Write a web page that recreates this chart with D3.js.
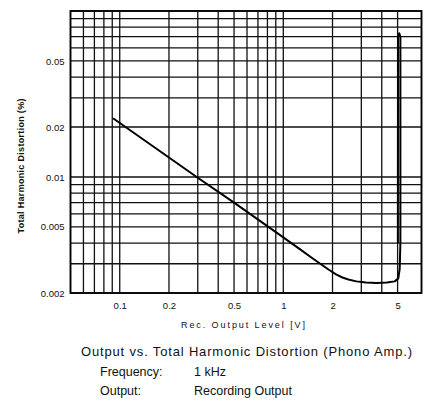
<!DOCTYPE html>
<html>
<head>
<meta charset="utf-8">
<script src="https://cdn.jsdelivr.net/npm/d3@7"></script>
<style>
  html, body { margin: 0; padding: 0; background: #fff; }
  svg { display: block; }
  text { font-family: "Liberation Sans", Arial, sans-serif; fill: #111; }
</style>
</head>
<body>
<svg id="chart" width="424" height="406"></svg>
<script>
// ---- data ----
const xGridValues = [0.06, 0.07, 0.08, 0.09, 0.1, 0.2, 0.3, 0.4, 0.5, 0.6, 0.7, 0.8, 0.9, 1, 2, 3, 4, 5];
const yGridValues = [0.003, 0.004, 0.005, 0.006, 0.007, 0.008, 0.009, 0.01, 0.02, 0.03, 0.04, 0.05, 0.06, 0.07, 0.08, 0.09];
const xTickValues = [0.1, 0.2, 0.5, 1, 2, 5];
const xTickLabels = ["0.1", "0.2", "0.5", "1", "2", "5"];
const yTickValues = [0.05, 0.02, 0.01, 0.005, 0.002];
const yTickLabels = ["0.05", "0.02", "0.01", "0.005", "0.002"];
// THD curve: output level (V) vs THD (%)
const levelV = [0.091, 0.2, 0.3, 0.5, 1, 1.3, 1.5, 1.7, 1.9, 2.1, 2.3, 2.5, 2.8, 3.2, 3.7, 4.3, 4.8, 5.05, 5.15, 5.2, 5.2, 5.12, 5.03, 5.02];
const thdPct = [0.0226, 0.0131, 0.0099, 0.0070, 0.00433, 0.0036, 0.00325, 0.00298, 0.00276, 0.00259, 0.00248, 0.00241, 0.00235, 0.00231, 0.0023, 0.00231, 0.00235, 0.00245, 0.0028, 0.004, 0.07, 0.0735, 0.071, 0.004];

const yTitle = "Total Harmonic Distortion (%)";
const xTitle = "Rec. Output Level  [V]";
const caption = "Output vs. Total Harmonic Distortion (Phono Amp.)";
const infoKeys = ["Frequency:", "Output:"];
const infoVals = ["1 kHz", "Recording Output"];

// ---- layout ----
const svg = d3.select("#chart");
const L = 70.5, R = 421.5, T = 11, B = 293;
const x = d3.scaleLog().domain([0.05, 7]).range([L, R]);
const y = d3.scaleLog().domain([0.002, 0.1]).range([B, T]);

const g = svg.append("g");

// grid
g.append("g").selectAll("line").data(xGridValues).join("line")
  .attr("x1", d => x(d)).attr("x2", d => x(d))
  .attr("y1", T).attr("y2", B)
  .attr("stroke", "#111").attr("stroke-width", 1.3);
g.append("g").selectAll("line").data(yGridValues).join("line")
  .attr("y1", d => y(d)).attr("y2", d => y(d))
  .attr("x1", L).attr("x2", R)
  .attr("stroke", "#111").attr("stroke-width", 1.3);

// frame
g.append("rect").attr("x", L).attr("y", T).attr("width", R - L).attr("height", B - T)
  .attr("fill", "none").attr("stroke", "#000").attr("stroke-width", 1.9);

// axes (labels only)
const xAxis = d3.axisBottom(x).tickValues(xTickValues)
  .tickFormat((d, i) => xTickLabels[i]).tickSize(0).tickPadding(9);
const xa = svg.append("g").attr("transform", `translate(0,${B})`).call(xAxis);
xa.select(".domain").remove();
xa.selectAll("text").attr("font-size", 9.5).attr("fill", "#111")
  .attr("font-family", "'Liberation Sans', Arial, sans-serif");

const yAxis = d3.axisLeft(y).tickValues(yTickValues)
  .tickFormat((d, i) => yTickLabels[i]).tickSize(0).tickPadding(6);
const ya = svg.append("g").attr("transform", `translate(${L},0)`).call(yAxis);
ya.select(".domain").remove();
ya.selectAll("text").attr("font-size", 9.5).attr("fill", "#111")
  .attr("font-family", "'Liberation Sans', Arial, sans-serif");

// curve
const line = d3.line().x(d => x(d[0])).y(d => y(d[1])).curve(d3.curveLinear);
const pts = levelV.map((v, i) => [v, thdPct[i]]);
g.append("path").datum(pts).attr("d", line)
  .attr("fill", "none").attr("stroke", "#000").attr("stroke-width", 2)
  .attr("stroke-linejoin", "round");

// titles
svg.append("text").attr("transform", `translate(24,166) rotate(-90)`)
  .attr("text-anchor", "middle").attr("font-size", 9).attr("font-weight", "bold")
  .attr("textLength", 135).text(yTitle);
svg.append("text").attr("x", 243).attr("y", 328).attr("text-anchor", "middle")
  .attr("font-size", 9).attr("textLength", 124).text(xTitle);

svg.append("text").attr("x", 81).attr("y", 356).attr("font-size", 13)
  .attr("textLength", 331).text(caption);
infoKeys.forEach((k, i) => {
  svg.append("text").attr("x", 100).attr("y", 376 + i * 18.5).attr("font-size", 12.5).text(k);
  svg.append("text").attr("x", 194).attr("y", 376 + i * 18.5).attr("font-size", 12.5).text(infoVals[i]);
});
</script>
</body>
</html>
